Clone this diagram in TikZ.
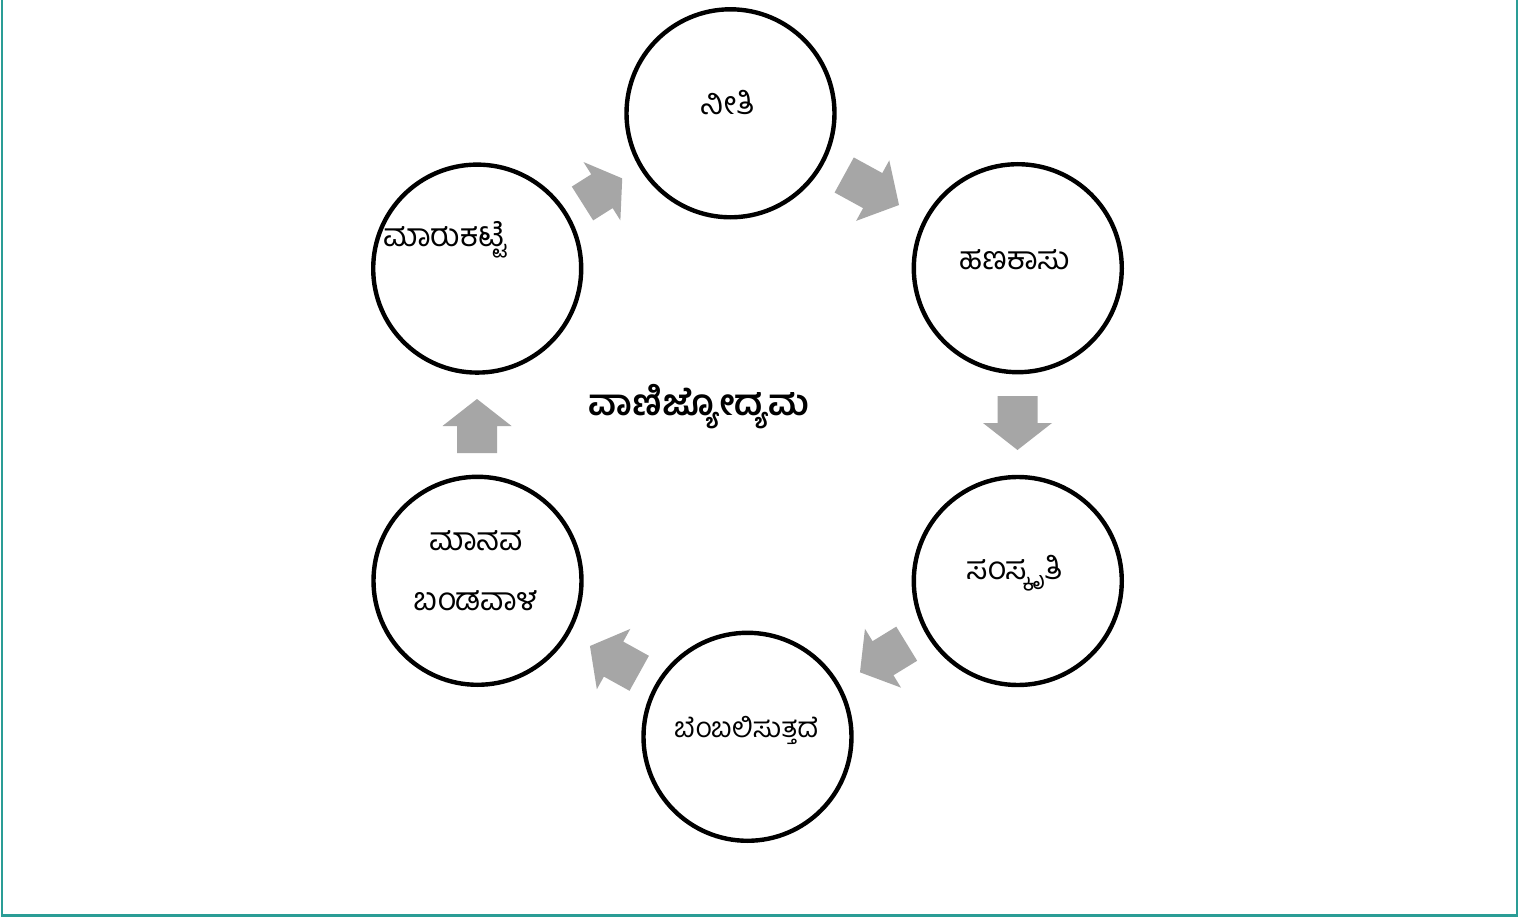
\documentclass[tikz,border=0pt]{standalone}
\usepackage{fontspec}
\newfontfamily\kn[Script=Kannada]{Hind Mysuru}
\definecolor{frameteal}{RGB}{42,157,150}
\definecolor{arrowgray}{RGB}{166,166,166}
\newcommand\myblockarrow[4]{%
  \fill[arrowgray, shift={(#1)}, rotate=#2]
    (0,-20) -- (#3,-20) -- (#3,-34.5) -- (#4,0) -- (#3,34.5) -- (#3,20) -- (0,20) -- cycle;}
\begin{document}
\begin{tikzpicture}[x=0.5pt,y=-0.5pt,
  ring/.style={circle,draw=black,line width=2.2pt,minimum size=104pt,inner sep=0pt},
  lbl/.style={font=\kn\fontsize{16}{30}\selectfont,inner sep=0pt,align=center},
  title/.style={font=\kn\bfseries\fontsize{18}{22}\selectfont,inner sep=0pt}]
\useasboundingbox (0,0) rectangle (1539,920);
\fill[white] (0,0) rectangle (1539,920);
\draw[frameteal,line width=1.25pt] (2,-5) -- (2,915.5) -- (1517,915.5) -- (1517,-5);

\begin{scope}
  \clip (0,8) rectangle (1539,920);
  \node[ring] (niti) at (730.5,113.3) {};
\end{scope}
\node[ring] (hana) at (1017.8,268.2) {};
\node[ring] (sams) at (1017.8,581) {};
\node[ring] (bemb) at (747.5,736.8) {};
\node[ring] (mana) at (477.5,580.8) {};
\node[ring] (maru) at (477.2,268.6) {};

\node[lbl] (tniti) at (728,103) {ನೀತಿ};
\node[lbl] (thana) at (1015,260) {ಹಣಕಾಸು};
\node[lbl] (tsams) at (1015,573) {ಸಂಸ್ಕೃತಿ};
\node[lbl,font=\kn\fontsize{14}{20}\selectfont] (tbemb) at (746,730) {ಬೆಂಬಲಿಸುತ್ತದೆ};
\node[lbl] (tmana) at (476,571) {ಮಾನವ\\ಬಂಡವಾಳ};
\node[lbl,anchor=west] (tmaru) at (383,240) {ಮಾರುಕಟ್ಟೆ};
\node[title] (center) at (699,407) {ವಾಣಿಜ್ಯೋದ್ಯಮ};

\myblockarrow{582.5,203.5}{32.3}{23}{47}
\myblockarrow{844.2,175}{-28.7}{32.5}{62.5}
\myblockarrow{1017.5,396}{-90}{27}{54}
\myblockarrow{906.7,643.7}{-148.5}{27.8}{54.8}
\myblockarrow{639.2,673.3}{151}{29.3}{56.3}
\myblockarrow{477,453}{90}{27}{54}
\end{tikzpicture}
\end{document}
